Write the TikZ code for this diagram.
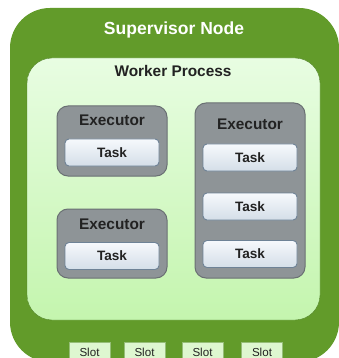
\documentclass[tikz,border=0pt]{standalone}
\usepackage{fontspec}
\setmainfont{Liberation Sans}
\usetikzlibrary{positioning}
\definecolor{supgreen}{RGB}{98,155,42}
\definecolor{workertop}{RGB}{232,253,226}
\definecolor{workerbot}{RGB}{196,245,174}
\definecolor{workerline}{RGB}{80,130,40}
\definecolor{execgray}{RGB}{142,148,151}
\definecolor{execline}{RGB}{106,112,115}
\definecolor{tasktop}{RGB}{246,249,252}
\definecolor{taskbot}{RGB}{212,222,232}
\definecolor{taskline}{RGB}{110,130,150}
\definecolor{slotfill}{RGB}{222,247,208}
\definecolor{slotline}{RGB}{150,190,120}
\definecolor{textgray}{RGB}{34,34,34}
\tikzset{
    %Define style for the outer node
    supervisor/.style={
           rectangle,
           rounded corners=40pt,
           fill=supgreen,
           minimum width=329pt,
           minimum height=354pt},
    %Define style for the process box
    worker/.style={
           rectangle,
           rounded corners=25pt,
           top color=workertop, bottom color=workerbot,
           draw=workerline, thin,
           minimum width=293pt,
           minimum height=262pt},
    executor/.style={
           rectangle,
           rounded corners=11pt,
           fill=execgray,
           draw=execline, line width=1pt,
           minimum width=110pt},
    task/.style={
           rectangle,
           rounded corners=4pt,
           top color=tasktop, bottom color=taskbot,
           draw=taskline, line width=0.9pt,
           minimum width=94pt,
           minimum height=27pt,
           inner sep=0pt,
           font=\bfseries\fontsize{13.6}{14}\selectfont,
           text=textgray,
           text centered},
    slot/.style={
           rectangle,
           fill=slotfill,
           draw=slotline, thin,
           minimum width=41pt,
           minimum height=20pt,
           inner sep=0pt,
           font=\fontsize{11.6}{12}\selectfont,
           text=textgray},
    % Define style for the titles
    title/.style={
           anchor=base,
           inner sep=0pt,
           font=\bfseries\fontsize{15.4}{16}\selectfont,
           text=textgray}
}
\begin{document}
\begin{tikzpicture}[x=1pt,y=-1pt]
\clip (0,0) rectangle (339,358);
\node[supervisor](sup) at (174.5,185){};
\node[worker](wp) at (173.5,189){};
\node[executor, minimum height=70pt](e1) at (112,141){};
\node[executor, minimum height=175pt](e2) at (250,190.5){};
\node[executor, minimum height=69pt](e3) at (112,243.5){};
\node[title, text=white, font=\bfseries\fontsize{17.5}{18}\selectfont](supname) at (174,35){Supervisor Node};
\node[title](wpname) at (173,77){Worker Process};
\node[title](e1name) at (112,126){Executor};
\node[title](e2name) at (250,130){Executor};
\node[title](e3name) at (112,229){Executor};
\node[task](t1) at (112,152.5){Task};
\node[task](t2) at (250,157.5){Task};
\node[task](t3) at (250,206.5){Task};
\node[task](t4) at (250,254){Task};
\node[task](t5) at (112,256){Task};
\foreach \x [count=\i] in {89.5,144.5,202.5,262}
  \node[slot](s\i) at (\x,352){Slot};
\end{tikzpicture}
\end{document}
